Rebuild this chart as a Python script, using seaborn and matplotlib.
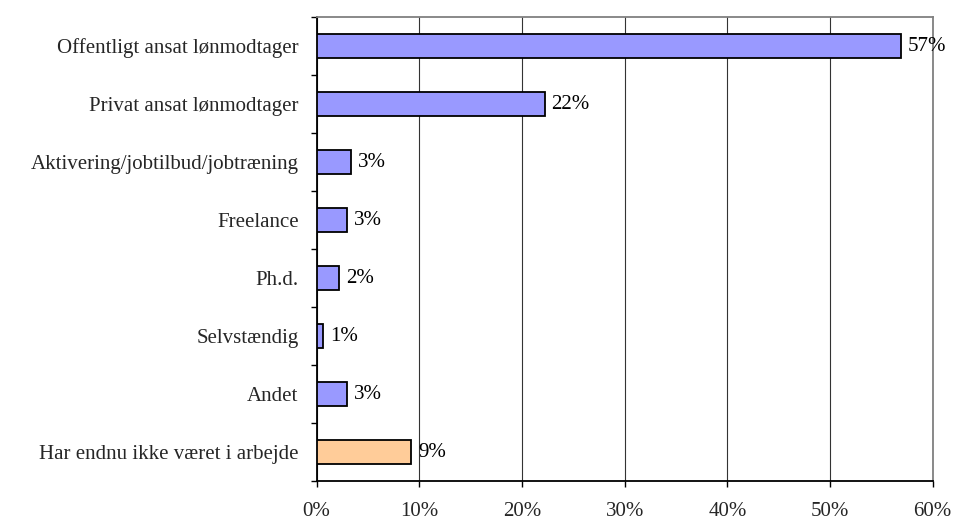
import matplotlib
matplotlib.use("Agg")
import matplotlib.pyplot as plt
import matplotlib.ticker as mticker
import seaborn as sns
import pandas as pd

categories = [
    "Offentligt ansat lønmodtager",
    "Privat ansat lønmodtager",
    "Aktivering/jobtilbud/jobtræning",
    "Freelance",
    "Ph.d.",
    "Selvstændig",
    "Andet",
    "Har endnu ikke været i arbejde",
]
shares = [56.9, 22.2, 3.3, 3.0, 2.2, 0.6, 3.0, 9.2]
bar_colors = ["#9999FF"] * 7 + ["#FFCC99"]
x_ticks = [0, 10, 20, 30, 40, 50, 60]

df = pd.DataFrame({"kategori": categories, "andel": shares})

sns.set_style("white")
plt.rcParams["font.family"] = ["Liberation Serif", "DejaVu Serif"]

fig = plt.figure(figsize=(9.55, 5.19), dpi=100)
ax = fig.add_axes([0.3316, 0.0732, 0.9767 - 0.3316, 0.9672 - 0.0732])

sns.barplot(data=df, x="andel", y="kategori", hue="kategori",
            palette=bar_colors, legend=False, orient="h", width=0.42,
            edgecolor="black", linewidth=1.3, saturation=1, ax=ax, zorder=3)

for cont in ax.containers:
    ax.bar_label(cont, labels=["%d%%" % round(c.get_width()) for c in cont],
                 padding=5, fontsize=15, color="black")

ax.set_xlim(0, 60)
ax.set_ylim(7.5, -0.5)
ax.set_xticks(x_ticks)
ax.xaxis.set_major_formatter(mticker.FuncFormatter(lambda v, p: "%d%%" % v))
ax.set_xlabel("")
ax.set_ylabel("")

ax.grid(axis="x", color="#333333", linewidth=0.8, zorder=0)
ax.grid(axis="y", visible=False)
ax.set_axisbelow(True)

# tick marks sit between the categories on the y axis
ax.set_yticks([i + 0.5 for i in range(-1, 8)], minor=True)
ax.tick_params(axis="y", which="major", length=0, pad=13, labelsize=15)
ax.tick_params(axis="y", which="minor", length=4, width=1, color="black",
               direction="out", left=True)
ax.tick_params(axis="x", which="major", length=4, width=1, color="black",
               direction="out", bottom=True, pad=11, labelsize=15)

for side in ["left", "bottom"]:
    ax.spines[side].set_color("black")
    ax.spines[side].set_linewidth(1.3)
for side in ["top", "right"]:
    ax.spines[side].set_color("#808080")
    ax.spines[side].set_linewidth(1.3)

fig.savefig("out.png", dpi=100)
